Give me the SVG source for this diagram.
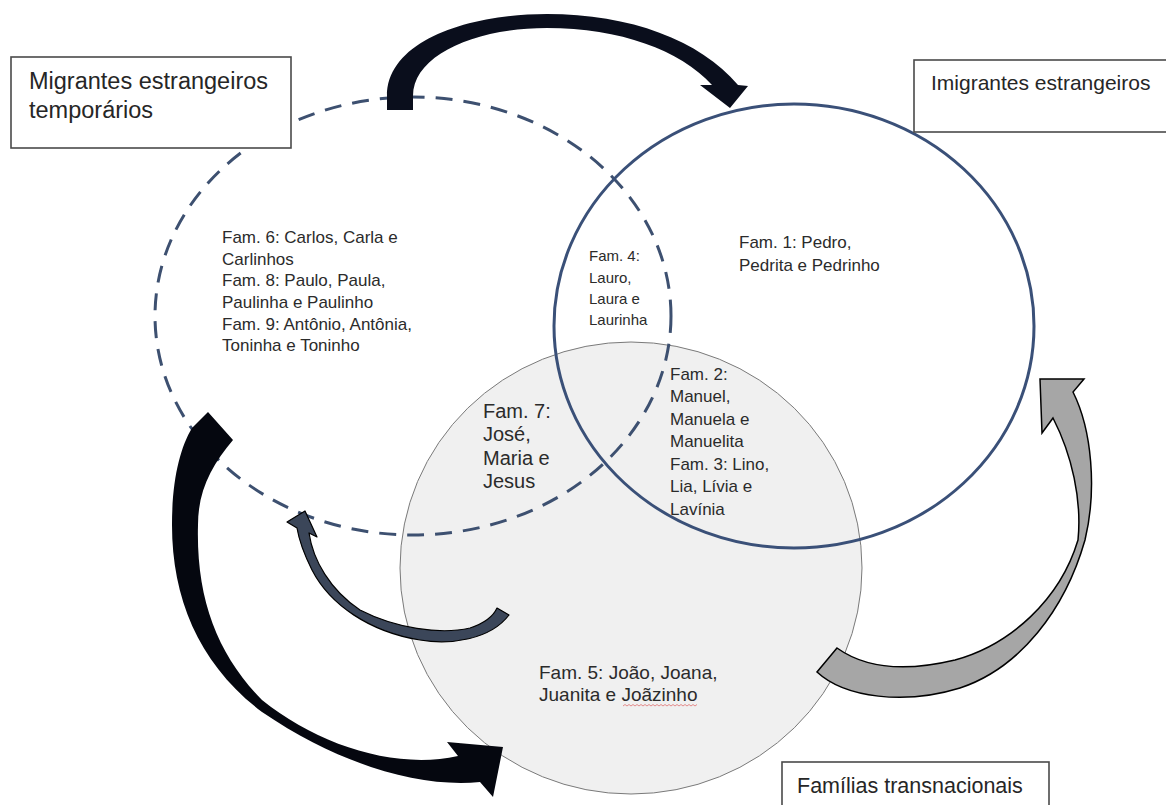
<svg xmlns="http://www.w3.org/2000/svg" width="1166" height="805" viewBox="0 0 1166 805">
<style>
.box{fill:#fff;stroke:#4a4a4a;stroke-width:1.6}
.lbl{font-family:"Liberation Sans",Arial,sans-serif;fill:#262626}
.fam{font-family:"Liberation Sans",Arial,sans-serif;fill:#2b2b2b}
.f17{font-size:17px}
.f15{font-size:15px}
.f19{font-size:19px}
.f20{font-size:20px}
</style>
<rect x="0" y="0" width="1166" height="805" fill="#fff"/>
<g id="familias-circle">
<ellipse cx="631" cy="568" rx="231" ry="226" fill="#f0f0f0" stroke="#7a7a7a" stroke-width="1"/>
</g>
<g id="temporarios-circle">
<ellipse cx="413" cy="316" rx="258" ry="219" fill="none" stroke="#3d5070" stroke-width="3" stroke-dasharray="17 11"/>
</g>
<g id="imigrantes-circle">
<ellipse cx="794" cy="326" rx="240" ry="222" fill="none" stroke="#3a5078" stroke-width="3"/>
</g>
<g id="connectors">
<path d="M387,110 L387,96 C387,40 470,14 547,14 C630,14 700,40 738,85 L748,86 L730,108 L700,85 L712,85 C680,50 620,28 547,28 C475,28 413,55 413,96 L413,110 Z" fill="#0a0e1c"/>
<path d="M208,412 L233,440 C212,465 198,490 198,525 C196,600 218,655 262,700 C318,745 395,770 458,756 L447,742 L503,747 L493,797 L480,782 C420,788 340,765 262,712 C200,665 172,600 172,525 C172,480 180,448 192,428 Z" fill="#05070f"/>
<path d="M497,608 L509,615 C490,640 450,645 420,640 C370,632 330,605 312,570 C303,552 299,540 297,528 L287,522 L305,511 L317,537 L309,533 C313,560 330,590 360,610 C395,628 440,635 470,628 C485,623 493,617 497,608 Z" fill="#3b4659" stroke="#000" stroke-width="1.2" stroke-linejoin="round"/>
<path d="M837,648 L817,672 C845,698 905,705 960,688 C1020,668 1065,610 1085,540 C1097,490 1092,430 1073,392 L1084,379 L1040,379 L1042,433 L1053,418 C1072,455 1082,500 1078,540 C1060,600 1010,645 955,660 C905,672 865,668 837,648 Z" fill="#a6a6a6" stroke="#000" stroke-width="1.5"/>
</g>
<g id="box-temporarios">
<rect class="box" x="11" y="57" width="280" height="91"/>
<text class="lbl" x="29" y="89" font-size="23.5">Migrantes estrangeiros</text>
<text class="lbl" x="29" y="118" font-size="23.5">temporários</text>
</g>
<g id="box-imigrantes">
<rect class="box" x="914" y="60" width="262" height="72"/>
<text class="lbl" x="931" y="90" font-size="21">Imigrantes estrangeiros</text>
</g>
<g id="box-familias">
<rect class="box" x="782" y="762" width="267" height="60"/>
<text class="lbl" x="797" y="793" font-size="21.5">Famílias transnacionais</text>
</g>
<g id="fam1">
<text class="fam f17" x="739" y="248">Fam. 1: Pedro,</text>
<text class="fam f17" x="739" y="271">Pedrita e Pedrinho</text>
</g>
<g id="fam4">
<text class="fam f15" x="589" y="261">Fam. 4:</text>
<text class="fam f15" x="589" y="283">Lauro,</text>
<text class="fam f15" x="589" y="304">Laura e</text>
<text class="fam f15" x="589" y="325">Laurinha</text>
</g>
<g id="fam6-8-9">
<text class="fam f17" x="222" y="243">Fam. 6: Carlos, Carla e</text>
<text class="fam f17" x="222" y="265">Carlinhos</text>
<text class="fam f17" x="222" y="286">Fam. 8: Paulo, Paula,</text>
<text class="fam f17" x="222" y="308">Paulinha e Paulinho</text>
<text class="fam f17" x="222" y="330">Fam. 9: Antônio, Antônia,</text>
<text class="fam f17" x="222" y="351">Toninha e Toninho</text>
</g>
<g id="fam2-3">
<text class="fam f17" x="670" y="380">Fam. 2:</text>
<text class="fam f17" x="670" y="402">Manuel,</text>
<text class="fam f17" x="670" y="425">Manuela e</text>
<text class="fam f17" x="670" y="447">Manuelita</text>
<text class="fam f17" x="670" y="470">Fam. 3: Lino,</text>
<text class="fam f17" x="670" y="492">Lia, Lívia e</text>
<text class="fam f17" x="670" y="515">Lavínia</text>
</g>
<g id="fam7">
<text class="fam f20" x="483" y="418">Fam. 7:</text>
<text class="fam f20" x="483" y="441">José,</text>
<text class="fam f20" x="483" y="465">Maria e</text>
<text class="fam f20" x="483" y="488">Jesus</text>
</g>
<g id="fam5">
<text class="fam f19" x="539" y="679">Fam. 5: João, Joana,</text>
<text class="fam f19" x="539" y="701">Juanita e Joãzinho</text>
<path d="M623,706 l2,-1.5 l2,1.5 l2,-1.5 l2,1.5 l2,-1.5 l2,1.5 l2,-1.5 l2,1.5 l2,-1.5 l2,1.5 l2,-1.5 l2,1.5 l2,-1.5 l2,1.5 l2,-1.5 l2,1.5 l2,-1.5 l2,1.5 l2,-1.5 l2,1.5 l2,-1.5 l2,1.5 l2,-1.5 l2,1.5 l2,-1.5 l2,1.5 l2,-1.5 l2,1.5 l2,-1.5 l2,1.5 l2,-1.5 l2,1.5 l2,-1.5 l2,1.5 l2,-1.5 l2,1.5 l2,-1.5" fill="none" stroke="#e07070" stroke-width="0.8"/>
</g>
</svg>
